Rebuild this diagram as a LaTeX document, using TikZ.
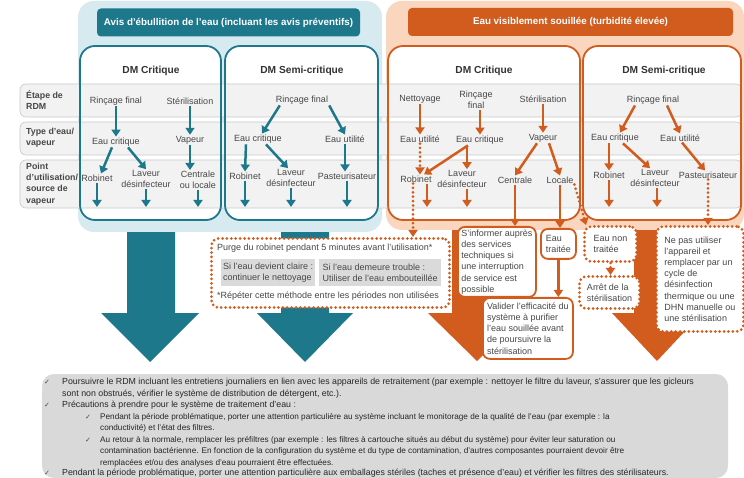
\documentclass[tikz,border=0pt]{standalone}
\usepackage{fontspec}
\setmainfont{Liberation Sans}
\newfontfamily\symfont{DejaVu Sans}
\usetikzlibrary{arrows.meta}

\definecolor{tl}{HTML}{1E788C}
\definecolor{tlbg}{HTML}{D6EAF0}
\definecolor{og}{HTML}{D25B1E}
\definecolor{ogbg}{HTML}{FAD6BE}
\definecolor{bandbg}{HTML}{F2F2F2}
\definecolor{bandln}{HTML}{C8C8C8}
\definecolor{subgray}{HTML}{DADADA}
\definecolor{notebg}{HTML}{D9D9D9}
\definecolor{txt}{HTML}{474747}

\begin{document}
\begin{tikzpicture}[x=1pt,y=-1pt,
    lbl/.style={font=\fontsize{9}{11}\selectfont,text=txt,align=center,inner sep=1pt},
    rowlbl/.style={font=\bfseries\fontsize{8.8}{11.4}\selectfont,text=txt,align=left,anchor=west,inner sep=0pt},
    dmt/.style={font=\bfseries\fontsize{10.2}{12}\selectfont,text=black!80},
    bar/.style={rounded corners=4pt,minimum height=28pt,font=\bfseries\fontsize{9.8}{11}\selectfont,text=white},
    band/.style={draw=bandln,fill=bandbg,rounded corners=6pt,line width=0.6pt},
    tarr/.style={draw=tl,line width=2.5pt,-{Triangle[width=9pt,length=7pt]}},
    oarr/.style={draw=og,line width=2.5pt,-{Triangle[width=9pt,length=7pt]}},
    dotline/.style={draw=og,line width=3pt,line cap=round,dash pattern=on 0pt off 4.4pt},
    darr/.style={dotline,-{Triangle[width=9pt,length=7pt]}},
    callout/.style={draw=og,line width=1.8pt,fill=white,rounded corners=7pt,anchor=north west,
      align=left,font=\fontsize{9}{11.2}\selectfont,text=txt,inner sep=2pt},
    dcallout/.style={callout,dotline},
    subbox/.style={fill=subgray,align=left,font=\fontsize{9}{11}\selectfont,text=txt,
      minimum height=27pt,inner sep=2pt,anchor=north west},
    chk/.style={font=\symfont\fontsize{7}{8}\selectfont,text=txt,inner sep=0pt},
    itemtxt/.style={font=\fontsize{8.8}{11.45}\selectfont,text=black!85,align=left,anchor=north west,inner sep=0pt},
    subtxt/.style={itemtxt,font=\fontsize{8.2}{11.45}\selectfont}]
  \useasboundingbox (0,0) rectangle (744,478);
  \fill[white] (0,0) rectangle (744,478);

  % big arrows below the panels
  \fill[tl] (127,215) -- (175,215) -- (175,313) -- (199,313) -- (150,362) -- (101,313) -- (127,313) -- cycle;
  \fill[tl] (281,215) -- (329,215) -- (329,313) -- (353,313) -- (305,362) -- (257,313) -- (281,313) -- cycle;
  \fill[og] (452,215) -- (503,215) -- (503,313) -- (526,313) -- (477,361) -- (428,313) -- (452,313) -- cycle;
  \fill[og] (634,215) -- (680,215) -- (680,313) -- (702,313) -- (657,361) -- (612,313) -- (634,313) -- cycle;

  % panels, DM boxes and row bands
  \fill[tlbg,rounded corners=16pt] (78,1) rectangle (382,232);
  \fill[ogbg,rounded corners=16pt] (386,1) rectangle (744,230);
  \foreach \xa/\xb in {80/221,225/378,388/580,583/741}
    \fill[white,rounded corners=15pt] (\xa,46) rectangle (\xb,220);
  \foreach \ya/\yb in {84/117,122/155,160/208}
    \draw[band] (20,\ya) rectangle (742,\yb);
  \foreach \xa/\xb in {80/221,225/378}
    \draw[tl,line width=1.8pt,rounded corners=15pt] (\xa,46) rectangle (\xb,220);
  \foreach \xa/\xb in {388/580,583/741}
    \draw[og,line width=1.8pt,rounded corners=15pt] (\xa,46) rectangle (\xb,220);

  \node[bar,fill=tl,minimum width=263pt] (avis) at (228.5,22.5) {Avis d'ébullition de l'eau (incluant les avis préventifs)};
  \node[bar,fill=og,minimum width=325pt] (souil) at (570.5,22) {Eau visiblement souillée (turbidité élevée)};

  \node[rowlbl] (retape) at (26,100) {Étape de\\RDM};
  \node[rowlbl] (rtype) at (26,138) {Type d'eau/\\vapeur};
  \node[rowlbl] (rpoint) at (26,184) {Point\\d'utilisation/\\source de\\vapeur};

  \node[dmt] (dm1) at (151,71) {DM Critique};
  \node[dmt] (dm2) at (302,71) {DM Semi-critique};
  \node[dmt] (dm3) at (484,71) {DM Critique};
  \node[dmt] (dm4) at (664,71) {DM Semi-critique};

  \coordinate (bot) at (0,207);

  % boil water notice, critical
  \node[lbl] (b1rin) at (116,101) {Rinçage final};
  \node[lbl] (b1ste) at (190,101) {Stérilisation};
  \node[lbl] (b1eauc) at (116,142) {Eau critique};
  \node[lbl] (b1vap) at (190,140) {Vapeur};
  \node[lbl] (b1rob) at (97,178) {Robinet};
  \node[lbl] (b1lav) at (146,179) {Laveur\\désinfecteur};
  \node[lbl] (b1cen) at (198,180) {Centrale\\ou locale};
  \draw[tarr] (b1rin) -- (b1eauc);
  \draw[tarr] (b1ste) -- (b1vap);
  \draw[tarr] ([xshift=-4pt]b1eauc.south) -- ([xshift=4pt]b1rob.north);
  \draw[tarr] ([xshift=12pt]b1eauc.south) -- (b1lav.north);
  \draw[tarr] (b1vap) -- (b1vap |- b1cen.north);
  \draw[tarr] (b1rob) -- (b1rob |- bot);
  \draw[tarr] (b1lav) -- (b1lav |- bot);
  \draw[tarr] (b1cen) -- (b1cen |- bot);

  % boil water notice, semi-critical
  \node[lbl] (b2rin) at (302,100) {Rinçage final};
  \node[lbl] (b2eauc) at (258,139) {Eau critique};
  \node[lbl] (b2eauu) at (345,139) {Eau utilité};
  \node[lbl] (b2rob) at (245,176) {Robinet};
  \node[lbl] (b2lav) at (291,178) {Laveur\\désinfecteur};
  \node[lbl] (b2pas) at (347,176) {Pasteurisateur};
  \draw[tarr] ([xshift=5pt]b2rin.south west) -- ([xshift=4pt]b2eauc.north);
  \draw[tarr] (b2rin.south east) -- (b2eauu.north);
  \draw[tarr] ([xshift=-12pt]b2eauc.south) -- (b2rob.north);
  \draw[tarr] ([xshift=8pt]b2eauc.south) -- ([xshift=-3pt]b2lav.north);
  \draw[tarr] (b2eauu) -- (b2eauu |- b2pas.north);
  \draw[tarr] (b2rob) -- (b2rob |- bot);
  \draw[tarr] (b2lav) -- (b2lav |- bot);
  \draw[tarr] (b2pas) -- (b2pas |- bot);

  % soiled water, critical
  \node[lbl] (o1net) at (420,99) {Nettoyage};
  \node[lbl] (o1rin) at (476,100) {Rinçage\\final};
  \node[lbl] (o1ste) at (543,99) {Stérilisation};
  \node[lbl] (o1eauu) at (420,139) {Eau utilité};
  \node[lbl] (o1eauc) at (480,140) {Eau critique};
  \node[lbl] (o1vap) at (543,138) {Vapeur};
  \node[lbl] (o1rob) at (416,179) {Robinet};
  \node[lbl] (o1lav) at (462,179) {Laveur\\désinfecteur};
  \node[lbl] (o1cen) at (515,180) {Centrale};
  \node[lbl] (o1loc) at (560,180) {Locale};
  \draw[oarr] (o1net) -- (o1eauu);
  \draw[oarr] (o1rin.south -| o1eauc) -- (o1eauc);
  \draw[oarr] (o1ste) -- (o1vap);
  \draw[darr] (o1eauu) -- (o1eauu |- o1rob.north);
  \draw[oarr] ([xshift=-12pt]o1eauc.south) -- ([xshift=8pt]o1rob.north);
  \draw[oarr] ([xshift=-13pt]o1eauc.south) -- ([xshift=5pt]o1lav.north);
  \draw[oarr] ([xshift=-6pt]o1vap.south) -- (o1cen.north);
  \draw[oarr] ([xshift=6pt]o1vap.south) -- (o1loc.north);
  \draw[oarr] ([xshift=11pt]o1rob.south) -- ([xshift=11pt]o1rob.south |- bot);
  \draw[oarr] ([xshift=5pt]o1lav.south) -- ([xshift=5pt]o1lav.south |- bot);

  % soiled water, semi-critical
  \node[lbl] (o2rin) at (653,100) {Rinçage final};
  \node[lbl] (o2eauc) at (615,138) {Eau critique};
  \node[lbl] (o2eauu) at (680,138) {Eau utilité};
  \node[lbl] (o2rob) at (609,175) {Robinet};
  \node[lbl] (o2lav) at (655,178) {Laveur\\désinfecteur};
  \node[lbl] (o2pas) at (708,175) {Pasteurisateur};
  \draw[oarr] ([xshift=-18pt]o2rin.south) -- ([xshift=5pt]o2eauc.north);
  \draw[oarr] ([xshift=14pt]o2rin.south) -- (o2eauu.north);
  \draw[oarr] (o2eauc.south -| o2rob) -- (o2rob);
  \draw[oarr] ([xshift=8pt]o2eauc.south) -- ([xshift=-5pt]o2lav.north);
  \draw[oarr] ([xshift=2pt]o2eauu.south) -- ([xshift=-3pt]o2pas.north);
  \draw[oarr] (o2rob) -- (o2rob |- bot);
  \draw[oarr] ([xshift=2pt]o2lav.south) -- ([xshift=2pt]o2lav.south |- bot);

  % what to do
  \node[dcallout,minimum width=238pt,minimum height=69pt] (purge) at (210,237) {};
  \node[lbl,anchor=west] (purget) at (216,248) {Purge du robinet pendant 5 minutes avant l'utilisation*};
  \node[subbox,minimum width=94pt] (claire) at (221,259) {Si l'eau devient claire :\\continuer le nettoyage};
  \node[subbox,minimum width=122pt] (trouble) at (319,259) {Si l'eau demeure trouble :\\Utiliser de l'eau embouteillée};
  \node[lbl,anchor=west] (repeter) at (216,296) {*Répéter cette méthode entre les périodes non utilisées};

  \node[callout,minimum width=78pt,minimum height=70pt] (info) at (457,226)
    {S'informer auprès\\des services\\techniques si\\une interruption\\de service est\\possible};
  \node[callout,minimum width=35pt,minimum height=30pt] (traitee) at (540,228) {Eau\\traitée};
  \node[callout,minimum width=90pt,minimum height=61pt] (valider) at (482,297)
    {Valider l'efficacité du\\système à purifier\\l'eau souillée avant\\de poursuivre la\\stérilisation};
  \node[dcallout,minimum width=52pt,minimum height=35pt] (nontraitee) at (583,225) {Eau non\\traitée};
  \node[dcallout,minimum width=60pt,minimum height=32pt] (arret) at (578,275) {Arrêt de la\\stérilisation};
  \node[dcallout,minimum width=87pt,minimum height=105pt] (nepas) at (655,225)
    {Ne pas utiliser\\l'appareil et\\remplacer par un\\cycle de\\désinfection\\thermique ou une\\DHN manuelle ou\\une stérilisation};

  \draw[darr] ([xshift=-3pt]o1rob.south) -- ([xshift=-3pt]o1rob.south |- purge.north);
  \draw[oarr] (o1cen) -- (o1cen |- info.north);
  \draw[oarr] (o1loc) -- (o1loc |- traitee.north);
  \draw[darr] (o1loc.south east) -- ([xshift=3pt]nontraitee.north west);
  \draw[oarr] (traitee) -- (traitee |- valider.north);
  \draw[darr] (nontraitee) -- (nontraitee |- arret.north);
  \draw[darr] (o2pas) -- (o2pas |- nepas.north);

  % general measures
  \fill[notebg,rounded corners=12pt] (42,374) rectangle (728,478);
  \node[chk] (c1) at (47,382) {✓};
  \node[itemtxt] (t1) at (62,378) {Poursuivre le RDM incluant les entretiens journaliers en lien avec les appareils de retraitement (par exemple : nettoyer le filtre du laveur, s'assurer que les gicleurs\\sont non obstrués, vérifier le système de distribution de détergent, etc.).};
  \node[chk] (c2) at (47,405) {✓};
  \node[itemtxt] (t2) at (62,401) {Précautions à prendre pour le système de traitement d'eau :};
  \node[chk] (c3) at (88,417) {✓};
  \node[subtxt] (t3) at (100,413) {Pendant la période problématique, porter une attention particulière au système incluant le monitorage de la qualité de l'eau (par exemple : la\\conductivité) et l'état des filtres.};
  \node[chk] (c4) at (88,440) {✓};
  \node[subtxt] (t4) at (100,436) {Au retour à la normale, remplacer les préfiltres (par exemple : les filtres à cartouche situés au début du système) pour éviter leur saturation ou\\contamination bactérienne. En fonction de la configuration du système et du type de contamination, d'autres composantes pourraient devoir être\\remplacées et/ou des analyses d'eau pourraient être effectuées.};
  \node[chk] (c5) at (47,473) {✓};
  \node[itemtxt] (t5) at (62,469) {Pendant la période problématique, porter une attention particulière aux emballages stériles (taches et présence d'eau) et vérifier les filtres des stérilisateurs.};
\end{tikzpicture}
\end{document}
